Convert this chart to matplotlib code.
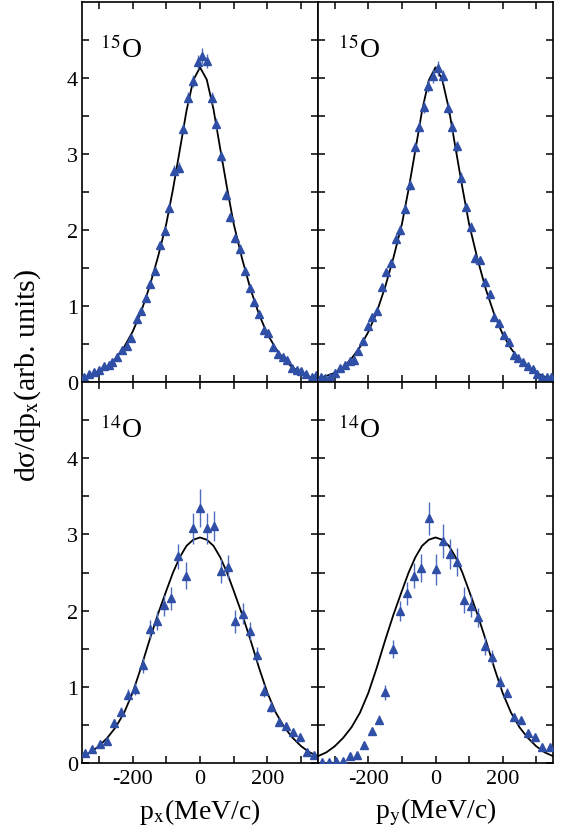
import matplotlib
matplotlib.use('Agg')
import numpy as np
import matplotlib.pyplot as plt
from matplotlib.ticker import FixedLocator

plt.rcParams['font.family'] = ['Liberation Serif', 'DejaVu Serif']
plt.rcParams['mathtext.fontset'] = 'stix'
plt.rcParams['axes.unicode_minus'] = False

# theory curves
curve_x = [-350, -325, -300, -275, -250, -225, -200, -175, -150, -125, -100, -80, -60, -40, -20,
           0, 20, 40, 60, 80, 100, 125, 150, 175, 200, 225, 250, 275, 300, 325, 350]
curve_15o = [0.05, 0.08, 0.12, 0.19, 0.31, 0.46, 0.66, 0.92, 1.25, 1.64, 2.08, 2.54, 3.05, 3.57, 3.97,
             4.14, 3.98, 3.59, 3.07, 2.56, 2.08, 1.62, 1.22, 0.89, 0.63, 0.44, 0.29, 0.19, 0.12, 0.07, 0.05]
curve_14o = [0.09, 0.14, 0.22, 0.33, 0.47, 0.66, 0.92, 1.25, 1.61, 1.95, 2.26, 2.50, 2.70, 2.85, 2.93,
             2.96, 2.93, 2.85, 2.70, 2.50, 2.26, 1.95, 1.61, 1.25, 0.92, 0.66, 0.47, 0.33, 0.22, 0.14, 0.09]

# 15O, p_x
px15 = [-345, -329, -314, -299, -286, -271, -261, -247, -230, -218, -205, -188, -174, -160, -148, -133,
        -119, -105, -91, -76, -63, -49, -36, -22, -7, 6, 20, 36, 48, 62, 77, 90, 105, 119, 133, 147,
        160, 174, 189, 202, 216, 232, 246, 259, 273, 287, 300, 315, 331, 345]
px15_y = [0.07, 0.10, 0.13, 0.16, 0.21, 0.22, 0.26, 0.33, 0.42, 0.48, 0.58, 0.83, 0.94, 1.10, 1.29, 1.46,
          1.80, 1.99, 2.29, 2.78, 2.82, 3.33, 3.74, 3.96, 4.21, 4.29, 4.22, 3.74, 3.40, 2.97, 2.46, 2.17, 1.89, 1.75, 1.46, 1.24,
          1.05, 0.90, 0.69, 0.64, 0.46, 0.37, 0.33, 0.29, 0.18, 0.16, 0.14, 0.10, 0.07, 0.09]
px15_err = [0.02, 0.02, 0.02, 0.02, 0.02, 0.02, 0.03, 0.03, 0.03, 0.03, 0.03, 0.04, 0.04, 0.04, 0.05, 0.05,
            0.05, 0.06, 0.06, 0.07, 0.07, 0.07, 0.08, 0.08, 0.09, 0.10, 0.09, 0.08, 0.08, 0.07, 0.07, 0.06, 0.06, 0.06, 0.05, 0.05,
            0.05, 0.04, 0.04, 0.04, 0.03, 0.03, 0.03, 0.03, 0.02, 0.02, 0.02, 0.02, 0.02, 0.02]

# 15O, p_y
py15 = [-341, -329, -314, -299, -285, -271, -256, -244, -230, -215, -202, -188, -174, -160, -146, -132,
        -119, -105, -91, -76, -62, -48, -35, -21, -7, 7, 21, 36, 50, 63, 77, 91, 105, 119, 133, 147,
        161, 175, 189, 203, 218, 233, 247, 261, 275, 289, 303, 317, 331, 345]
py15_y = [0.06, 0.05, 0.07, 0.12, 0.18, 0.22, 0.28, 0.29, 0.41, 0.54, 0.74, 0.85, 0.93, 1.25, 1.45, 1.57,
          1.88, 2.00, 2.28, 2.59, 3.09, 3.36, 3.62, 3.90, 4.03, 4.13, 4.02, 3.60, 3.35, 3.10, 2.69, 2.30, 2.04, 1.63, 1.60, 1.32,
          1.16, 0.86, 0.77, 0.62, 0.53, 0.36, 0.32, 0.26, 0.21, 0.17, 0.11, 0.07, 0.06, 0.06]
py15_err = px15_err

# 14O, p_x
px14 = [-341, -319, -297, -276, -254, -234, -213, -192, -170, -149, -128, -106, -85, -64, -43, -22,
        0, 21, 43, 63, 84, 105, 127, 148, 168, 189, 211, 233, 254, 275, 296, 318, 339]
px14_y = [0.13, 0.18, 0.25, 0.29, 0.53, 0.67, 0.89, 0.97, 1.28, 1.76, 1.87, 2.07, 2.16, 2.71, 2.46, 3.08,
          3.35, 3.08, 3.11, 2.52, 2.57, 1.86, 1.96, 1.73, 1.42, 0.95, 0.74, 0.54, 0.48, 0.41, 0.34, 0.15, 0.10]
px14_err = [0.03, 0.03, 0.04, 0.04, 0.05, 0.07, 0.08, 0.08, 0.10, 0.12, 0.12, 0.14, 0.15, 0.16, 0.18, 0.20,
            0.25, 0.20, 0.20, 0.16, 0.16, 0.15, 0.14, 0.12, 0.10, 0.09, 0.07, 0.05, 0.04, 0.04, 0.03, 0.03, 0.03]

# 14O, p_y
py14 = [-339, -318, -297, -276, -254, -234, -212, -190, -169, -149, -127, -105, -84, -63, -42, -20,
        1, 22, 43, 64, 85, 106, 127, 148, 169, 191, 212, 234, 254, 276, 297, 318, 340]
py14_y = [0.01, 0.01, 0.02, 0.02, 0.09, 0.11, 0.23, 0.42, 0.57, 0.93, 1.50, 2.00, 2.23, 2.46, 2.56, 3.21,
          2.54, 2.91, 2.74, 2.64, 2.14, 2.06, 1.91, 1.54, 1.39, 1.06, 0.92, 0.60, 0.56, 0.39, 0.34, 0.21, 0.21]
py14_err = [0.01, 0.01, 0.01, 0.01, 0.02, 0.02, 0.03, 0.04, 0.06, 0.10, 0.12, 0.13, 0.15, 0.16, 0.18, 0.22,
            0.20, 0.22, 0.20, 0.18, 0.17, 0.15, 0.13, 0.12, 0.09, 0.08, 0.06, 0.05, 0.04, 0.03, 0.03, 0.03, 0.03]

panels = [
    (px15, px15_y, px15_err, curve_15o, r'$^{15}$O'),
    (py15, py15_y, py15_err, curve_15o, r'$^{15}$O'),
    (px14, px14_y, px14_err, curve_14o, r'$^{14}$O'),
    (py14, py14_y, py14_err, curve_14o, r'$^{14}$O'),
]

fig = plt.figure(figsize=(5.64, 8.37), dpi=100)
x0, xm, x1 = 82 / 564, 318 / 564, 553 / 564
y0, ym, y1 = 1 - 764 / 837, 1 - 383 / 837, 1 - 3 / 837
boxes = [
    [x0, ym, xm - x0, y1 - ym],
    [xm, ym, x1 - xm, y1 - ym],
    [x0, y0, xm - x0, ym - y0],
    [xm, y0, x1 - xm, ym - y0],
]

mcol = '#2f4fa6'
ecol = '#4d6cc0'

for i, (box, (xs, ys, es, cy, lab)) in enumerate(zip(boxes, panels)):
    ax = fig.add_axes(box)
    ax.plot(curve_x, cy, color='black', lw=1.3, zorder=2)
    ax.errorbar(xs, ys, yerr=es, fmt='^', color=mcol, ecolor=ecol, ms=5.5,
                elinewidth=1.0, capsize=0, zorder=3)
    ax.set_xlim(-350, 350)
    ax.set_ylim(0, 5)
    ax.xaxis.set_major_locator(FixedLocator([-200, 0, 200]))
    ax.xaxis.set_minor_locator(FixedLocator([-300, -100, 100, 300]))
    ax.yaxis.set_major_locator(FixedLocator([0, 1, 2, 3, 4]))
    ax.yaxis.set_minor_locator(FixedLocator([0.5, 1.5, 2.5, 3.5, 4.5]))
    ax.tick_params(which='both', direction='in', top=True, right=True,
                   length=5, width=1.1, labelsize=16)
    for s in ax.spines.values():
        s.set_linewidth(1.2)
    if i < 2:
        ax.tick_params(labelbottom=False)
    if i % 2 == 1:
        ax.tick_params(labelleft=False)
    ax.tick_params(axis='x', pad=4)
    ax.tick_params(axis='y', pad=3)
    ax.text(0.075 if i % 2 == 0 else 0.085, 0.875, lab, transform=ax.transAxes,
            fontsize=20, ha='left', va='center')
    if i == 2:
        ax.set_xlabel(r'p$_\mathrm{x}$(MeV/c)', fontsize=20, labelpad=6)
    if i == 3:
        ax.set_xlabel(r'p$_\mathrm{y}$(MeV/c)', fontsize=20, labelpad=6)

fig.text(28 / 564, 1 - 375 / 837, 'dσ/dp$_\\mathrm{x}$(arb. units)',
         rotation=90, fontsize=21.5, ha='center', va='center')

fig.savefig('out.png', dpi=100)
